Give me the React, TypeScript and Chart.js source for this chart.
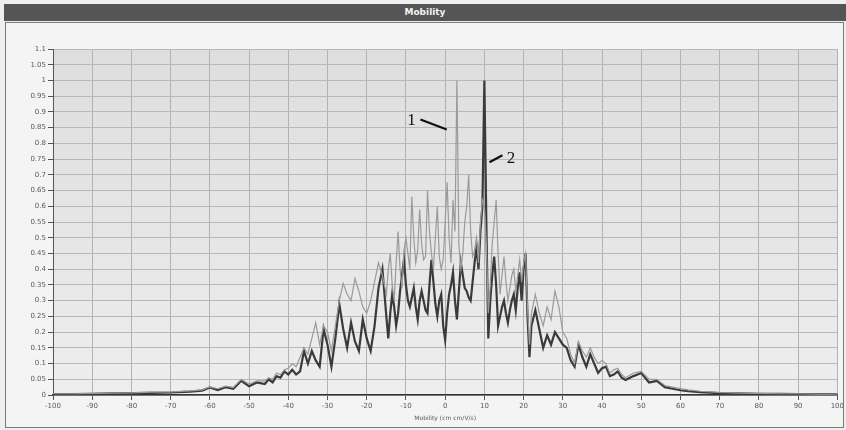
import React, { useEffect, useRef } from "react";
import { Chart, registerables } from "chart.js";

Chart.register(...registerables);

// Mobility axis values (shared by both series)
const mobility: number[] = [
  -100, -95, -90, -85, -80, -75, -70, -65, -62, -60, -58, -56, -54, -52, -50, -48, -46,
  -45, -44, -43, -42, -41, -40, -39, -38, -37, -36, -35, -34, -33, -32, -31, -30,
  -29, -28, -27, -26, -25, -24, -23, -22, -21, -20, -19, -18, -17, -16,
  -15, -14.5, -14, -13.5, -13, -12.5, -12, -11.5, -11, -10.5, -10, -9.5, -9, -8.5,
  -8, -7.5, -7, -6.5, -6, -5.5, -5, -4.5, -4, -3.5, -3, -2.5, -2, -1.5, -1, -0.5,
  0, 0.5, 1, 1.5, 2, 2.5, 3, 3.5, 4, 4.5, 5, 5.5, 6, 6.5, 7, 7.5, 8, 8.5, 9, 9.5,
  10, 10.5, 11, 11.5, 12, 12.5, 13, 13.5, 14, 14.5, 15, 15.5, 16, 16.5, 17, 17.5,
  18, 18.5, 19, 19.5, 20, 20.5, 21, 21.5, 22,
  23, 24, 25, 26, 27, 28, 29, 30, 31, 32, 33, 34, 35, 36, 37, 38, 39, 40, 41, 42,
  43, 44, 45, 46, 48, 50, 52, 54, 56, 58, 60, 62, 65, 70, 75, 80, 85, 90, 95, 100,
];

// Series 1 (light trace)
const series1: number[] = [
  0.004, 0.004, 0.005, 0.006, 0.007, 0.009, 0.01, 0.013, 0.016, 0.026, 0.02, 0.028, 0.024, 0.05, 0.035, 0.045, 0.045,
  0.055, 0.05, 0.07, 0.065, 0.08, 0.085, 0.1, 0.09, 0.12, 0.15, 0.13, 0.18, 0.23, 0.16, 0.22, 0.2,
  0.14, 0.22, 0.3, 0.355, 0.32, 0.3, 0.37, 0.33, 0.28, 0.26, 0.3, 0.36, 0.42, 0.38,
  0.32, 0.4, 0.45, 0.35, 0.3, 0.42, 0.52, 0.4, 0.34, 0.46, 0.5, 0.45, 0.4, 0.63,
  0.5, 0.42, 0.46, 0.59, 0.48, 0.43, 0.44, 0.65, 0.52, 0.45, 0.4, 0.5, 0.6, 0.44, 0.4, 0.43,
  0.55, 0.676, 0.5, 0.42, 0.62, 0.52, 1.0, 0.48, 0.4, 0.45, 0.55, 0.6, 0.7, 0.52, 0.44, 0.46, 0.5, 0.42, 0.55, 0.62,
  0.6, 0.48, 0.26, 0.35, 0.48, 0.55, 0.62, 0.45, 0.32, 0.38, 0.44, 0.36, 0.3, 0.34, 0.38, 0.4,
  0.33, 0.38, 0.43, 0.36, 0.42, 0.45, 0.28, 0.16, 0.26,
  0.32, 0.26, 0.22, 0.28, 0.24, 0.33, 0.28, 0.2, 0.18, 0.13, 0.1, 0.17, 0.14, 0.12, 0.15, 0.12, 0.1, 0.11, 0.1, 0.07,
  0.08, 0.085, 0.065, 0.055, 0.07, 0.075, 0.05, 0.05, 0.03, 0.025, 0.02, 0.016, 0.012, 0.008, 0.006, 0.005, 0.004, 0.004, 0.003, 0.003,
];

// Series 2 (dark trace)
const series2: number[] = [
  0.003, 0.003, 0.004, 0.005, 0.006, 0.007, 0.008, 0.011, 0.014, 0.024, 0.016, 0.025, 0.02, 0.045, 0.028, 0.04, 0.035,
  0.05, 0.04, 0.06, 0.055, 0.075, 0.065, 0.08, 0.065, 0.075, 0.14, 0.1, 0.14, 0.11, 0.09, 0.21, 0.16,
  0.09, 0.18, 0.29, 0.21, 0.15, 0.23, 0.17, 0.14, 0.24, 0.18, 0.14, 0.22, 0.34, 0.4,
  0.25, 0.18, 0.26, 0.32, 0.28, 0.22, 0.26, 0.33, 0.38, 0.43, 0.35, 0.3, 0.28, 0.31,
  0.34, 0.28, 0.24, 0.3, 0.33, 0.3, 0.27, 0.26, 0.35, 0.43, 0.36, 0.29, 0.25, 0.3, 0.32, 0.22,
  0.175, 0.26, 0.32, 0.35, 0.39, 0.3, 0.24, 0.33, 0.42, 0.38, 0.34, 0.33, 0.31, 0.3, 0.36, 0.42, 0.47, 0.4, 0.52, 0.6,
  1.0, 0.55, 0.18, 0.3, 0.38, 0.44, 0.35, 0.22, 0.25, 0.28, 0.3, 0.26, 0.23, 0.27, 0.3, 0.32,
  0.27, 0.34, 0.39, 0.3, 0.4, 0.45, 0.25, 0.12, 0.22,
  0.27, 0.21, 0.15, 0.19, 0.16, 0.2, 0.18, 0.16, 0.15, 0.11, 0.09, 0.16, 0.12, 0.09, 0.13, 0.1, 0.07, 0.085, 0.09, 0.06,
  0.065, 0.075, 0.055, 0.048, 0.06, 0.07, 0.04, 0.045, 0.025, 0.02, 0.015, 0.012, 0.009, 0.006, 0.005, 0.004, 0.004, 0.003, 0.003, 0.003,
];

const xTicks: number[] = [-100, -90, -80, -70, -60, -50, -40, -30, -20, -10, 0, 10, 20, 30, 40, 50, 60, 70, 80, 90, 100];

// Callout labels, anchored in data units
const calloutLabels: string[] = ["1", "2"];
const calloutText: number[][] = [[-8.6, 0.873], [16.8, 0.752]];
const calloutLines: number[][] = [[-6.3, 0.876, 0.4, 0.844], [11.3, 0.74, 14.6, 0.762]];

const backgroundPlugin = {
  id: "panelBg",
  beforeDraw(chart: any) {
    const { ctx, chartArea, width, height } = chart;
    ctx.save();
    ctx.fillStyle = "#efefef";
    ctx.fillRect(0, 0, width, height);
    ctx.fillStyle = "#f4f4f4";
    ctx.fillRect(5, 22, width - 7, height - 24);
    ctx.strokeStyle = "#7a7a7a";
    ctx.lineWidth = 1;
    ctx.strokeRect(5.5, 22.5, width - 8, height - 25);
    const g = ctx.createLinearGradient(0, chartArea.top, 0, chartArea.bottom);
    g.addColorStop(0, "#dedede");
    g.addColorStop(0.55, "#e6e6e6");
    g.addColorStop(1, "#eeeeee");
    ctx.fillStyle = g;
    ctx.fillRect(chartArea.left, chartArea.top, chartArea.right - chartArea.left, chartArea.bottom - chartArea.top);
    ctx.restore();
  },
};

const calloutPlugin = {
  id: "callouts",
  afterDraw(chart: any) {
    const { ctx, scales } = chart;
    const x = scales.x;
    const y = scales.y;
    ctx.save();
    ctx.strokeStyle = "#111";
    ctx.lineWidth = 2.2;
    calloutLines.forEach((l) => {
      ctx.beginPath();
      ctx.moveTo(x.getPixelForValue(l[0]), y.getPixelForValue(l[1]));
      ctx.lineTo(x.getPixelForValue(l[2]), y.getPixelForValue(l[3]));
      ctx.stroke();
    });
    ctx.fillStyle = "#111";
    ctx.font = "17px 'Liberation Serif', 'DejaVu Serif', serif";
    ctx.textAlign = "center";
    ctx.textBaseline = "middle";
    calloutLabels.forEach((t, i) => {
      ctx.fillText(t, x.getPixelForValue(calloutText[i][0]), y.getPixelForValue(calloutText[i][1]));
    });
    ctx.restore();
  },
};

export default function App() {
  const ref = useRef<HTMLCanvasElement | null>(null);

  useEffect(() => {
    if (!ref.current) return;
    const pts = (ys: number[]) => mobility.map((m, i) => ({ x: m, y: ys[i] }));
    const chart = new Chart(ref.current, {
      type: "line",
      data: {
        datasets: [
          {
            label: "1",
            data: pts(series1),
            borderColor: "#9a9a9a",
            borderWidth: 1.2,
            pointRadius: 0,
            tension: 0,
          },
          {
            label: "2",
            data: pts(series2),
            borderColor: "#3a3a3a",
            borderWidth: 2.2,
            pointRadius: 0,
            tension: 0,
          },
        ],
      },
      options: {
        animation: false,
        responsive: false,
        maintainAspectRatio: false,
        layout: { padding: { left: 8, right: 8, top: 49, bottom: 8 } },
        plugins: {
          legend: { display: false },
          tooltip: { enabled: false },
        },
        scales: {
          x: {
            type: "linear",
            min: -100,
            max: 100,
            afterBuildTicks: (s: any) => {
              s.ticks = xTicks.map((v) => ({ value: v }));
            },
            afterFit: (s: any) => {
              s.height = 27;
            },
            ticks: {
              color: "#5a5a5a",
              font: { family: "DejaVu Sans", size: 7 },
              padding: 2,
              maxRotation: 0,
              autoSkip: false,
            },
            grid: { color: "#b2b2b2", lineWidth: 1, tickLength: 5, tickColor: "#555" },
            border: { color: "#333", width: 1.5 },
            title: {
              display: true,
              text: "Mobility (cm cm/V/s)",
              color: "#5a5a5a",
              font: { family: "DejaVu Sans", size: 6 },
              padding: { top: 1, bottom: 0 },
            },
          },
          y: {
            type: "linear",
            min: 0,
            max: 1.1,
            afterFit: (s: any) => {
              s.width = 45;
            },
            ticks: {
              stepSize: 0.05,
              color: "#5a5a5a",
              font: { family: "DejaVu Sans", size: 7 },
              padding: 2,
              autoSkip: false,
              callback: (v: any) => String(Number(Number(v).toFixed(2))),
            },
            grid: { color: "#b8b8b8", lineWidth: 1, tickLength: 5, tickColor: "#555" },
            border: { color: "#555", width: 1 },
          },
        },
      },
      plugins: [backgroundPlugin, calloutPlugin],
    });
    return () => chart.destroy();
  }, []);

  return (
    <div style={{ position: "fixed", left: 0, top: 0, width: 846, height: 430, background: "#efefef" }}>
      <canvas ref={ref} width={846} height={430} style={{ position: "absolute", left: 0, top: 0 }} />
      <div
        style={{
          position: "absolute",
          left: 4,
          top: 4,
          width: 842,
          height: 17,
          background: "#555555",
          color: "#f2f2f2",
          fontFamily: "'DejaVu Sans', sans-serif",
          fontWeight: "bold",
          fontSize: 9,
          lineHeight: "17px",
          textAlign: "center",
        }}
      >
        Mobility
      </div>
    </div>
  );
}
